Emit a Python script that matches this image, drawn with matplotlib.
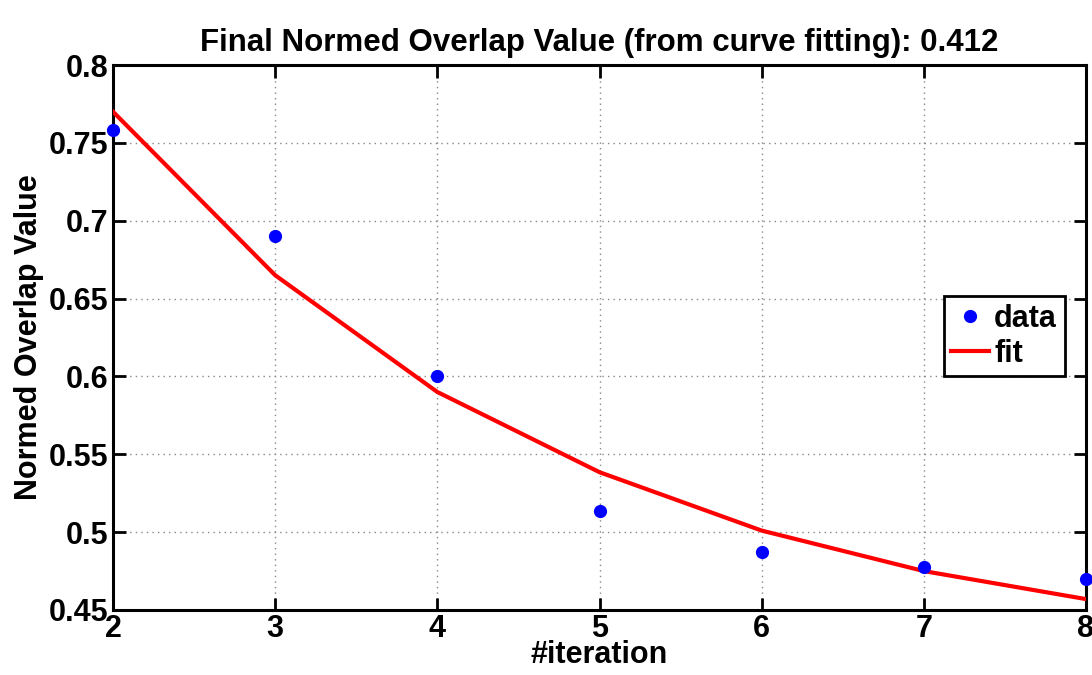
import matplotlib
matplotlib.use('Agg')
import matplotlib.pyplot as plt

# values
iterations = [2, 3, 4, 5, 6, 7, 8]
overlap_data = [0.758, 0.690, 0.600, 0.5135, 0.487, 0.4775, 0.470]
overlap_fit = [0.770, 0.665, 0.590, 0.5385, 0.501, 0.475, 0.457]
yticks = [0.45, 0.5, 0.55, 0.6, 0.65, 0.7, 0.75, 0.8]
ytick_labels = ['0.45', '0.5', '0.55', '0.6', '0.65', '0.7', '0.75', '0.8']

plt.rcParams['font.family'] = ['Liberation Sans', 'DejaVu Sans']
plt.rcParams['font.weight'] = 'bold'

fig = plt.figure(figsize=(10.92, 6.75), dpi=100)
ax = fig.add_axes([0.1035, 0.0963, 0.891, 0.8074])

ax.plot(iterations, overlap_data, 'o', color='#0000ff', markersize=8.5,
        label='data', clip_on=False, zorder=4)
ax.plot(iterations, overlap_fit, '-', color='#ff0000', linewidth=3,
        label='fit', zorder=3)

ax.set_xlim(2, 8)
ax.set_ylim(0.45, 0.8)
ax.set_xticks(iterations)
ax.set_yticks(yticks)
ax.set_yticklabels(ytick_labels)
ax.tick_params(direction='in', length=9, width=2, labelsize=22,
               top=True, right=True, pad=3)
for s in ax.spines.values():
    s.set_linewidth(2.2)
ax.grid(True, linestyle=(0, (1, 3)), color='#888888', linewidth=1)

ax.set_title('Final Normed Overlap Value (from curve fitting): 0.412',
             fontsize=22.5, fontweight='bold', pad=10)
ax.set_xlabel('#iteration', fontsize=22, fontweight='bold', labelpad=-3)
ax.set_ylabel('Normed Overlap Value', fontsize=22, fontweight='bold', labelpad=4)

leg = ax.legend(loc='center right', bbox_to_anchor=(0.978, 0.502), fontsize=22,
                fancybox=False, framealpha=1, edgecolor='black',
                handlelength=1.25, handletextpad=0.15, borderpad=0.25,
                labelspacing=0.15, borderaxespad=0)
leg.get_frame().set_linewidth(2)

plt.savefig('out.png', dpi=100)
plt.close()
